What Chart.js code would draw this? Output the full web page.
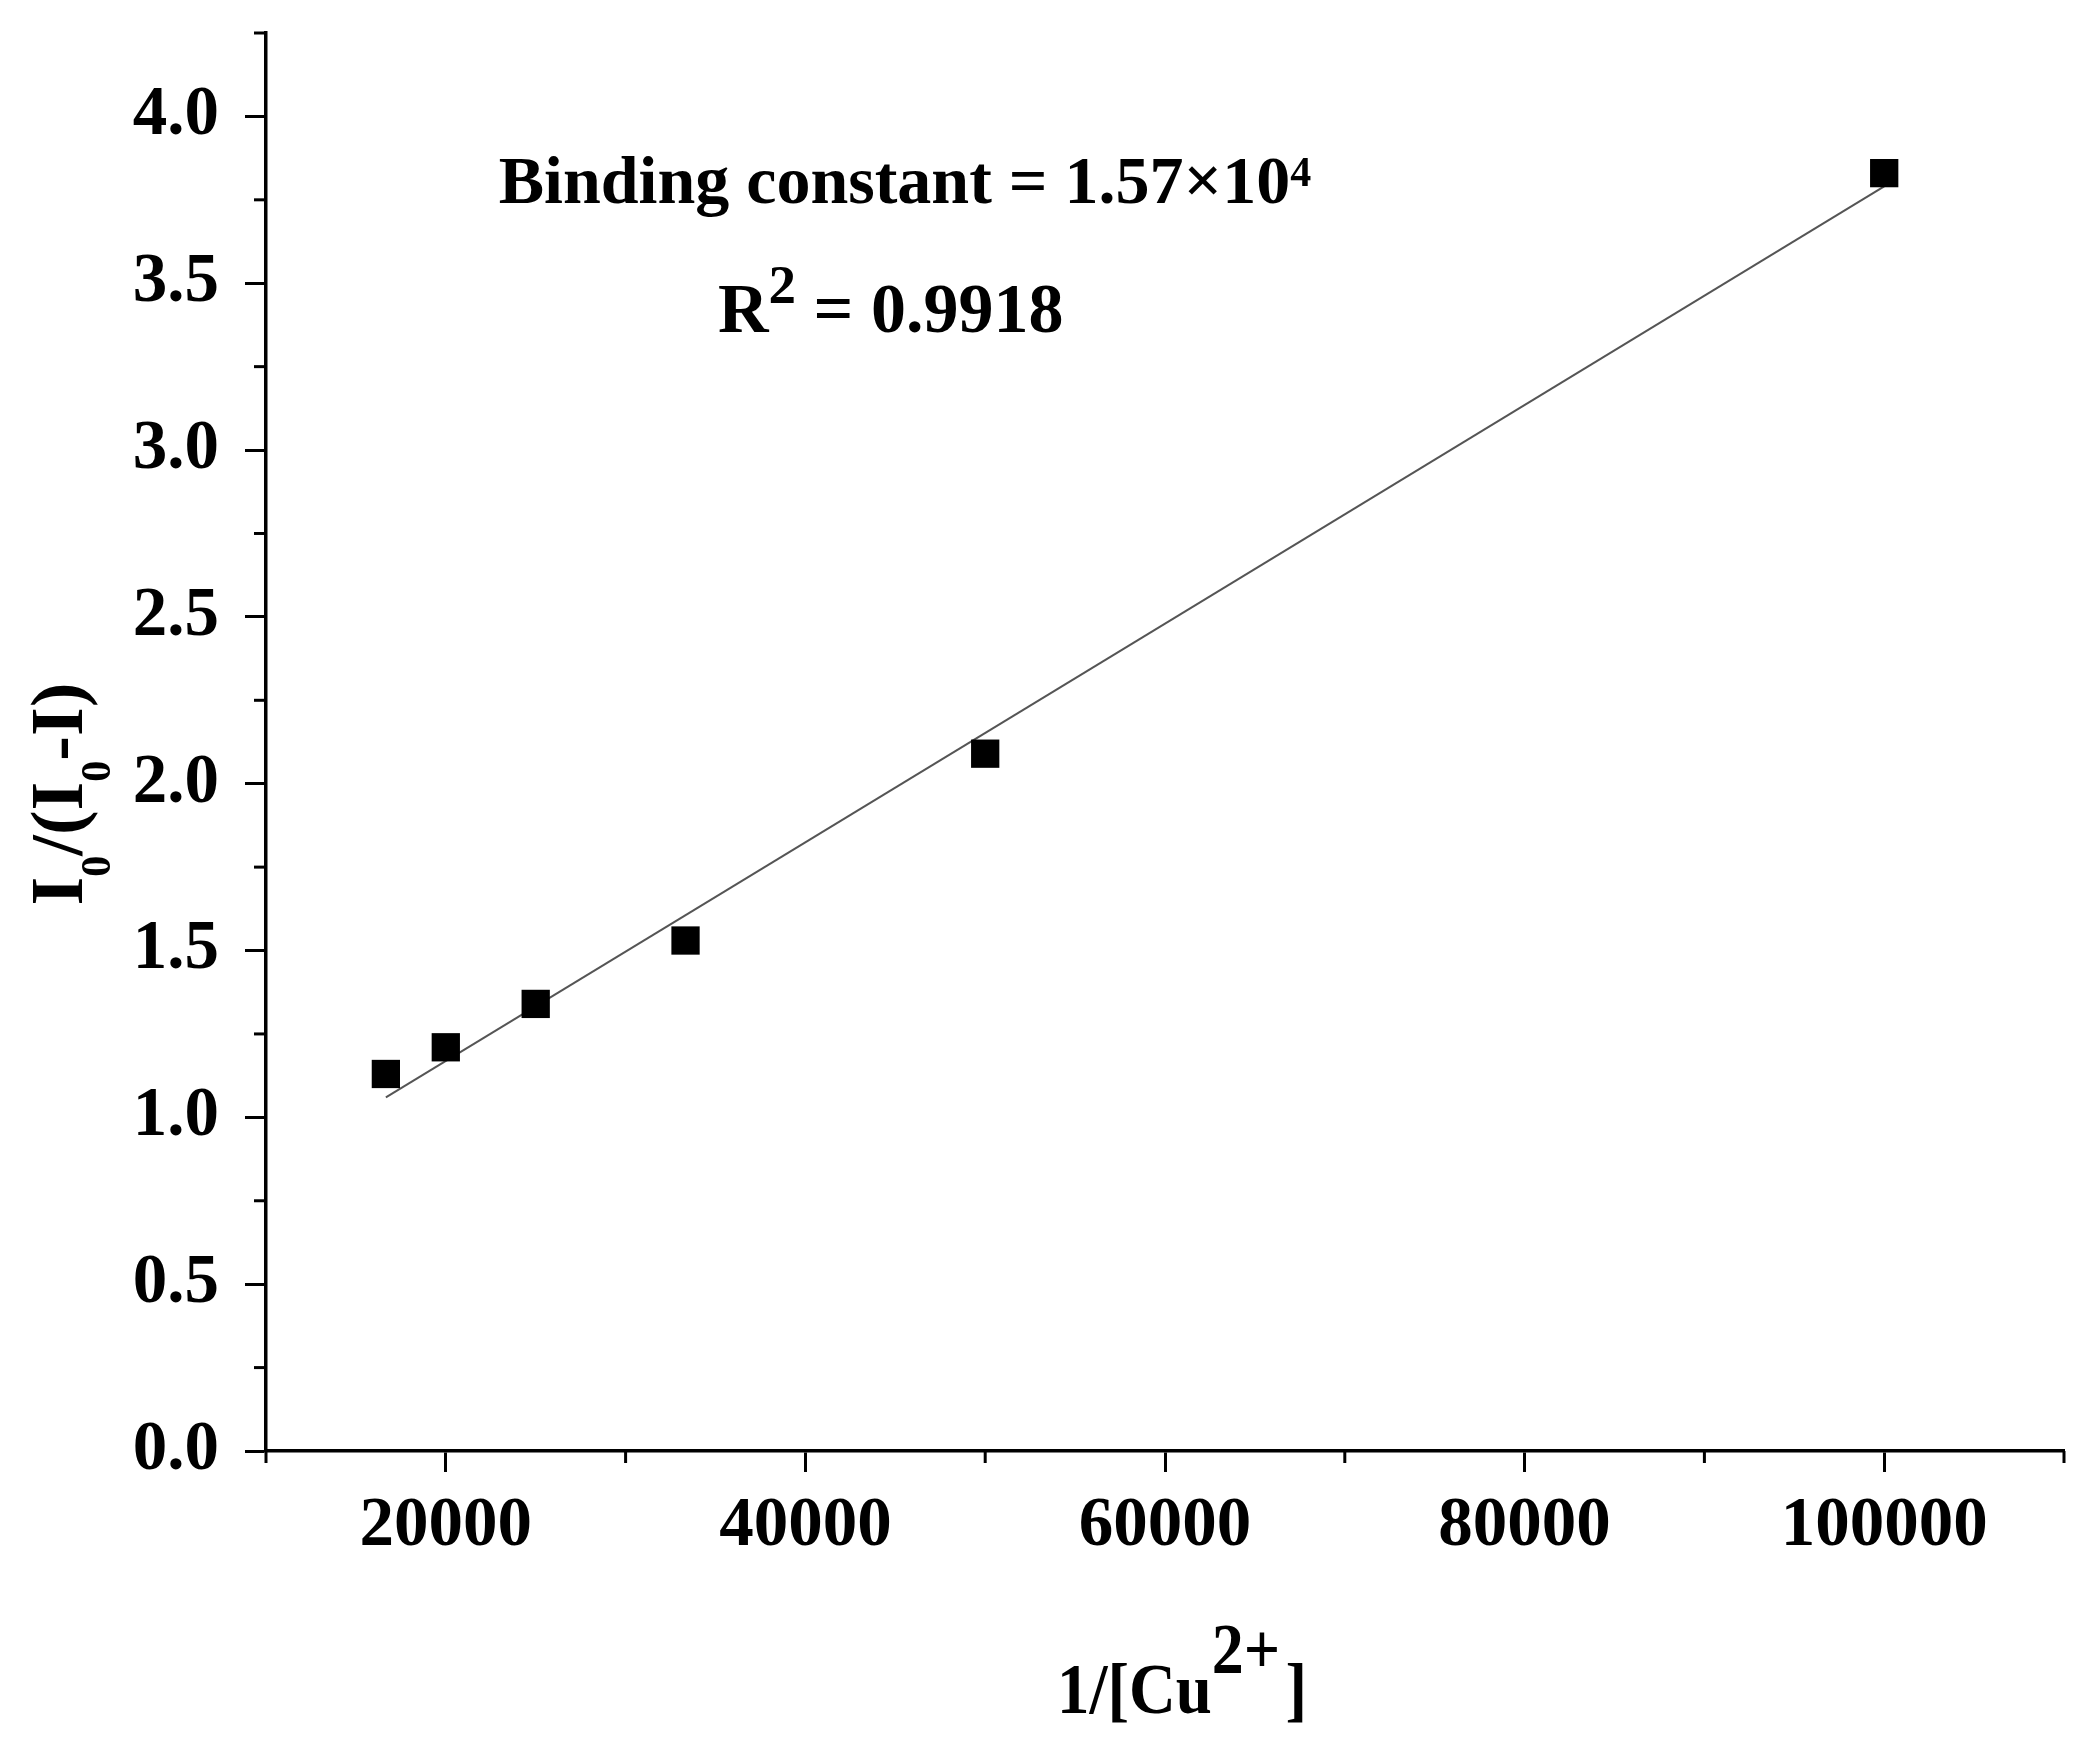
<!DOCTYPE html>
<html>
<head>
<meta charset="utf-8">
<script src="https://cdn.jsdelivr.net/npm/chart.js@4.4.1/dist/chart.umd.min.js"></script>
<style>
  html, body { margin: 0; padding: 0; background: #fff; }
  #wrap { width: 2084px; height: 1764px; position: relative; }
</style>
</head>
<body>
<div id="wrap"><canvas id="plot"></canvas></div>
<script>
// 1/[Cu2+] against I0/(I0-I)
const xValues = [16667, 20000, 25000, 33333, 50000, 100000];
const yValues = [1.13, 1.21, 1.34, 1.53, 2.09, 3.83];

// fitted line, its two ends as drawn in the figure
const fitX = [16667, 100000];
const fitY = [1.06, 3.79];

const xMajor = [20000, 40000, 60000, 80000, 100000];
const xMinor = [10000, 30000, 50000, 70000, 90000, 110000];
const yMajor = [0, 0.5, 1.0, 1.5, 2.0, 2.5, 3.0, 3.5, 4.0];
const yMinor = [0.25, 0.75, 1.25, 1.75, 2.25, 2.75, 3.25, 3.75, 4.25];

const FONT = '"Liberation Serif", "Times New Roman", serif';

// draws text made of pieces: [text, font size, vertical shift]
// sx squeezes the text sideways a little
function drawRich(ctx, parts, x, y, align, sx) {
    sx = sx || 1;
    let w = 0;
    parts.forEach(p => {
        ctx.font = 'bold ' + p[1] + 'px ' + FONT;
        w += ctx.measureText(p[0]).width;
    });
    ctx.save();
    ctx.translate(x, y);
    ctx.scale(sx, 1);
    let cx = align === 'center' ? -w / 2 : 0;
    parts.forEach(p => {
        ctx.font = 'bold ' + p[1] + 'px ' + FONT;
        ctx.fillText(p[0], cx, p[2] || 0);
        cx += ctx.measureText(p[0]).width;
    });
    ctx.restore();
}

const extras = {
    id: 'extras',
    afterDraw(chart) {
        const ctx = chart.ctx;
        const xs = chart.scales.x;
        const ys = chart.scales.y;
        ctx.save();

        // minor ticks
        ctx.strokeStyle = '#000';
        ctx.lineWidth = 3;
        xMinor.forEach(v => {
            const px = xs.getPixelForValue(v);
            ctx.beginPath();
            ctx.moveTo(px, xs.top);
            ctx.lineTo(px, xs.top + 12);
            ctx.stroke();
        });
        yMinor.forEach(v => {
            const py = ys.getPixelForValue(v);
            ctx.beginPath();
            ctx.moveTo(ys.right, py);
            ctx.lineTo(ys.right - 12, py);
            ctx.stroke();
        });

        ctx.fillStyle = '#000';
        ctx.textAlign = 'left';
        ctx.textBaseline = 'alphabetic';

        // annotation
        drawRich(ctx, [['Binding constant = 1.57\u00d710', 68], ['4', 42, -17]], 905, 203, 'center');
        drawRich(ctx, [['R', 70], ['2', 55, -29], [' = 0.9918', 70]], 718, 332, 'left');

        // x title
        drawRich(ctx, [['1/[Cu', 72], ['2+', 71, -40], [' ', 24], [']', 72]], 1057, 1713, 'left', 0.9);

        // y title
        ctx.translate(82, 794);
        ctx.rotate(-Math.PI / 2);
        drawRich(ctx, [['I', 74], ['0', 42, 28], ['/(I', 74], ['0', 42, 28], ['-I)', 74]], 0, 0, 'center');

        ctx.restore();
    }
};

const ctx = document.getElementById('plot').getContext('2d');
new Chart(ctx, {
    type: 'scatter',
    data: {
        datasets: [{
            data: xValues.map((x, i) => ({ x: x, y: yValues[i] })),
            pointStyle: 'rect',
            radius: 20,
            backgroundColor: '#000',
            borderWidth: 0,
            order: 0
        }, {
            type: 'line',
            data: fitX.map((x, i) => ({ x: x, y: fitY[i] })),
            borderColor: '#555',
            borderWidth: 2,
            pointRadius: 0,
            fill: false,
            order: 1
        }]
    },
    options: {
        responsive: true,
        maintainAspectRatio: false,
        devicePixelRatio: 1,
        animation: false,
        layout: { padding: { top: 33, right: 18, left: 0, bottom: 0 } },
        plugins: { legend: { display: false }, tooltip: { enabled: false } },
        scales: {
            x: {
                type: 'linear',
                min: 10000,
                max: 110000,
                afterBuildTicks: axis => { axis.ticks = xMajor.map(v => ({ value: v })); },
                afterFit: axis => {
                    axis.height = 313;
                    axis.paddingLeft = 0;
                    axis.paddingRight = 0;
                },
                grid: { display: true, drawOnChartArea: false, drawTicks: true, tickLength: 21, tickWidth: 3, tickColor: '#000' },
                border: { display: true, color: '#000', width: 3.5 },
                ticks: {
                    color: '#000',
                    padding: 14,
                    maxRotation: 0,
                    font: { family: FONT, size: 69, weight: 'bold' },
                    callback: v => String(v)
                }
            },
            y: {
                type: 'linear',
                min: 0,
                max: 4.25,
                afterBuildTicks: axis => { axis.ticks = yMajor.map(v => ({ value: v })); },
                afterFit: axis => {
                    axis.width = 266;
                    axis.paddingTop = 0;
                    axis.paddingBottom = 0;
                },
                grid: { display: true, drawOnChartArea: false, drawTicks: true, tickLength: 21, tickWidth: 3, tickColor: '#000' },
                border: { display: true, color: '#000', width: 3.5 },
                ticks: {
                    color: '#000',
                    padding: 26,
                    font: { family: FONT, size: 69, weight: 'bold' },
                    callback: v => v.toFixed(1)
                }
            }
        }
    },
    plugins: [extras]
});
</script>
</body>
</html>
